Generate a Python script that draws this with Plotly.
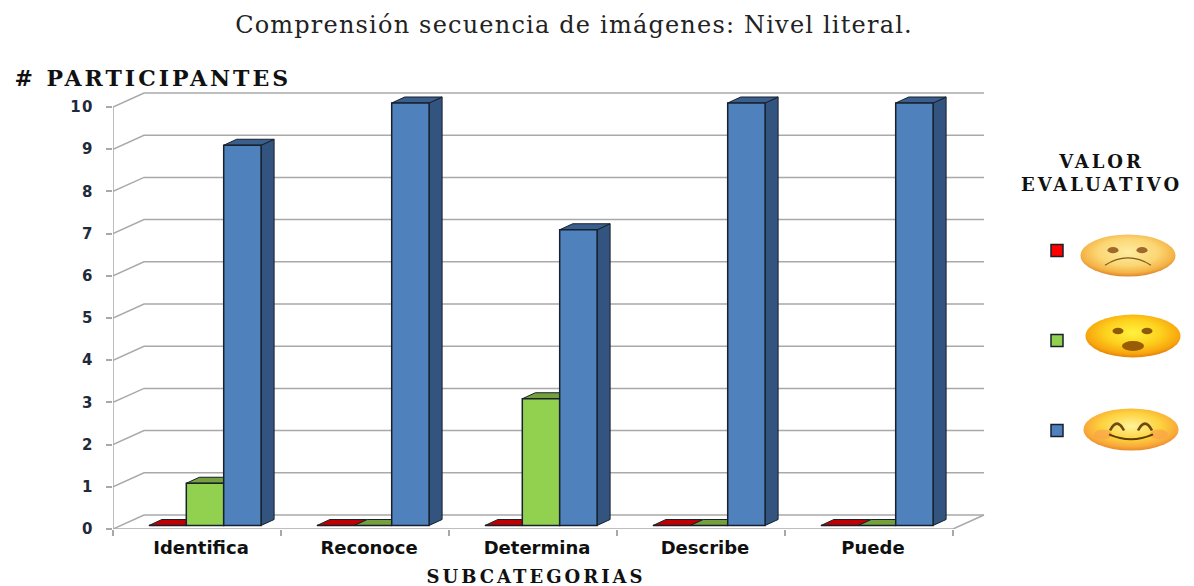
import base64
import plotly.graph_objects as go

categories = ["Identifica", "Reconoce", "Determina", "Describe", "Puede"]
bajo = [0, 0, 0, 0, 0]
medio = [1, 0, 3, 0, 0]
alto = [9, 10, 7, 10, 10]
y_ticks = list(range(11))
title_text = "Comprensión secuencia de imágenes: Nivel literal."
y_title = "# PARTICIPANTES"
x_title = "SUBCATEGORIAS"
legend_title = "VALOR<br>EVALUATIVO"

W, H = 1194, 586
LEFT, RIGHT, BOTTOM, TOP = 113, 985, 529, 92
CAT_PX, UNIT_PX, BAR_UNIT_PX = 168, 42.2, 42.25
WALL_DX, WALL_DY = 31 / CAT_PX, 14 / UNIT_PX
BAR_DX, BAR_DY = 13 / CAT_PX, 6 / BAR_UNIT_PX
BAR_W = 37.4 / CAT_PX
GRID = "#a9a9a9"
EDGE = "#17202c"

series = [
    (bajo, "#ff0000", "#c00000", "#900000"),
    (medio, "#92d050", "#76a03c", "#5f8530"),
    (alto, "#4f81bd", "#3a5f8e", "#33547e"),
]

fig = go.Figure()

n = len(categories)
gx, gy = [], []
for v in y_ticks:
    gx += [0, WALL_DX, n + WALL_DX, None]
    gy += [v, v + WALL_DY, v + WALL_DY, None]
gx += [0, 0, None, 0, n, n + WALL_DX]
gy += [y_ticks[0], y_ticks[-1], None, 0, 0, WALL_DY]
fig.add_trace(go.Scatter(x=gx, y=gy, mode="lines", line=dict(color=GRID, width=1.5),
                         showlegend=False, hoverinfo="skip", xaxis="x", yaxis="y"))

for s, (vals, front, top, side) in enumerate(series):
    sx, sy, tx, ty = [], [], [], []
    for i, v in enumerate(vals):
        l = i + (s - 1.5) * BAR_W
        r = l + BAR_W
        tx += [l, r, r + BAR_DX, l + BAR_DX, l, None]
        ty += [v, v, v + BAR_DY, v + BAR_DY, v, None]
        if v > 0:
            sx += [r, r + BAR_DX, r + BAR_DX, r, r, None]
            sy += [0, BAR_DY, v + BAR_DY, v, 0, None]
    if sx:
        fig.add_trace(go.Scatter(x=sx, y=sy, mode="lines", fill="toself", fillcolor=side,
                                 line=dict(color=EDGE, width=1), showlegend=False,
                                 hoverinfo="skip", xaxis="x2", yaxis="y2"))
    fig.add_trace(go.Scatter(x=tx, y=ty, mode="lines", fill="toself", fillcolor=top,
                             line=dict(color=EDGE, width=1), showlegend=False,
                             hoverinfo="skip", xaxis="x2", yaxis="y2"))

for s, (vals, front, top, side) in enumerate(series):
    fig.add_trace(go.Bar(x=list(range(n)), y=vals, name=" ", legendgroup=str(s),
                         marker=dict(color=front, line=dict(color=EDGE, width=1.5)),
                         hovertemplate="%{y}<extra></extra>", xaxis="x3", yaxis="y3"))


def face(body_stops, mouth):
    stops = "".join(f'<stop offset="{o}" stop-color="{c}"/>' for o, c in body_stops)
    svg = (f'<svg xmlns="http://www.w3.org/2000/svg" width="192" height="88" viewBox="0 0 96 44">'
           f'<defs><radialGradient id="g" cx="50%" cy="42%" r="58%">{stops}</radialGradient></defs>'
           f'<ellipse cx="48" cy="22" rx="47.5" ry="21.5" fill="url(#g)"/>{mouth}</svg>')
    return "data:image/svg+xml;base64," + base64.b64encode(svg.encode()).decode()


sad = face([(0, "#fdeca0"), (0.55, "#fbd674"), (0.85, "#f4b244"), (1, "#dd8430")],
           '<ellipse cx="33" cy="16.5" rx="5.5" ry="3.2" fill="#a0682a"/>'
           '<ellipse cx="62" cy="16.5" rx="5.5" ry="3.2" fill="#a0682a"/>'
           '<path d="M25 32 Q48 17 71 32" fill="none" stroke="#7e5a22" stroke-width="1.2"/>')
wow = face([(0, "#fff23e"), (0.5, "#fdd21e"), (0.85, "#f8a50e"), (1, "#e2800c")],
           '<ellipse cx="33" cy="17" rx="5.5" ry="3.2" fill="#8f5a08"/>'
           '<ellipse cx="62" cy="17" rx="5.5" ry="3.2" fill="#8f5a08"/>'
           '<ellipse cx="48" cy="32" rx="11" ry="5" fill="#995c05"/>')
happy = face([(0, "#fff39a"), (0.55, "#fdd23c"), (0.85, "#f9a83a"), (1, "#e88a28")],
             '<ellipse cx="20" cy="27" rx="9" ry="5" fill="#f9a24a" opacity="0.7"/>'
             '<ellipse cx="76" cy="27" rx="9" ry="5" fill="#f9a24a" opacity="0.7"/>'
             '<path d="M27 23 Q34 9 41 23" fill="none" stroke="#6e4a0c" stroke-width="2.6"/>'
             '<path d="M55 23 Q62 9 69 23" fill="none" stroke="#6e4a0c" stroke-width="2.6"/>'
             '<path d="M26 27 Q48 37 70 27" fill="none" stroke="#5c3c08" stroke-width="2.2"/>')

images = [
    dict(source=src, xref="paper", yref="paper", x=x0 / W, y=1 - y0 / H,
         sizex=(x1 - x0) / W, sizey=(y1 - y0) / H, xanchor="left", yanchor="top",
         sizing="stretch", layer="above")
    for src, x0, x1, y0, y1 in [(sad, 1080, 1176, 234, 277), (wow, 1085, 1181, 314, 358),
                                (happy, 1083, 1179, 408, 451)]
]

serif = "DejaVu Serif"
sans = "DejaVu Sans"
dom_x = [LEFT / W, RIGHT / W]
dom_y = [1 - BOTTOM / H, 1 - TOP / H]
span_x = (RIGHT - LEFT) / CAT_PX
span_y = (BOTTOM - TOP) / UNIT_PX
BAR_X0 = (205 - LEFT) / CAT_PX
BAR_Y0 = 3.5 / BAR_UNIT_PX
range_x2 = [-BAR_X0, span_x - BAR_X0]
range_y2 = [-BAR_Y0, (BOTTOM - TOP) / BAR_UNIT_PX - BAR_Y0]

hidden = dict(visible=False, fixedrange=True, automargin=False)
fig.update_layout(
    template="none",
    width=W, height=H, margin=dict(l=0, r=0, t=0, b=0, pad=0),
    paper_bgcolor="white", plot_bgcolor="white",
    barmode="group", bargap=1 - 3 * BAR_W, bargroupgap=0,
    title=dict(text=title_text, x=574 / W, xanchor="center", y=1 - 25 / H, yanchor="middle",
               font=dict(family=serif, size=24, color="#222222")),
    xaxis=dict(domain=dom_x, range=[0, span_x], tickvals=list(range(n + 1)),
               ticktext=[""] * (n + 1), ticks="outside", ticklen=6, tickwidth=1.5, tickcolor=GRID,
               showgrid=False, zeroline=False, showline=False, fixedrange=True, automargin=False),
    yaxis=dict(domain=dom_y, range=[0, span_y], tickvals=y_ticks, ticks="outside", ticklen=6,
               tickwidth=1.5, tickcolor=GRID, showgrid=False, zeroline=False, showline=False,
               ticklabelstandoff=9, tickfont=dict(family=sans, size=15, color="#1f2a3a", weight="bold"),
               fixedrange=True, automargin=False),
    xaxis2=dict(overlaying="x", range=range_x2, **hidden),
    yaxis2=dict(overlaying="y", range=range_y2, **hidden),
    xaxis3=dict(overlaying="x", range=range_x2, side="bottom", anchor="y3", tickvals=list(range(n)),
                ticktext=categories, ticks="", showgrid=False, zeroline=False, showline=False,
                ticklabelstandoff=6, ticklabelshift=-4, automargin=False,
                tickfont=dict(family=sans, size=18, color="#101010", weight="bold"), fixedrange=True),
    yaxis3=dict(overlaying="y", range=range_y2, **hidden),
    legend=dict(x=1037 / W, y=1 - 236 / H, xanchor="left", yanchor="top", bgcolor="rgba(0,0,0,0)",
                traceorder="grouped", tracegroupgap=71, itemclick=False, itemdoubleclick=False,
                font=dict(size=12)),
    images=images,
    annotations=[
        dict(text=y_title, x=35 / W, y=1 - 78 / H, xref="paper", yref="paper", xanchor="left",
             yanchor="middle", showarrow=False, font=dict(family=serif, size=22, color="#111111", weight="bold")),
        dict(text=x_title, x=536 / W, y=1 - 576 / H, xref="paper", yref="paper", xanchor="center",
             yanchor="middle", showarrow=False, font=dict(family=serif, size=18, color="#111111", weight="bold")),
        dict(text=legend_title, x=1101 / W, y=1 - 173 / H, xref="paper", yref="paper", xanchor="center",
             yanchor="middle", showarrow=False, align="center",
             font=dict(family=serif, size=18, color="#111111", weight="bold")),
    ],
)

spacing_js = """
document.body.style.margin='0';
var sp=function(sel,v){document.querySelectorAll(sel).forEach(function(e){e.style.letterSpacing=v;});};
sp('.gtitle','1.2px');
sp('.annotation-text','3px');
sp('.xtick text','1.3px');
sp('.ytick text','1.5px');
"""
fig.write_html("out.html", config={"displayModeBar": False}, post_script=spacing_js)
